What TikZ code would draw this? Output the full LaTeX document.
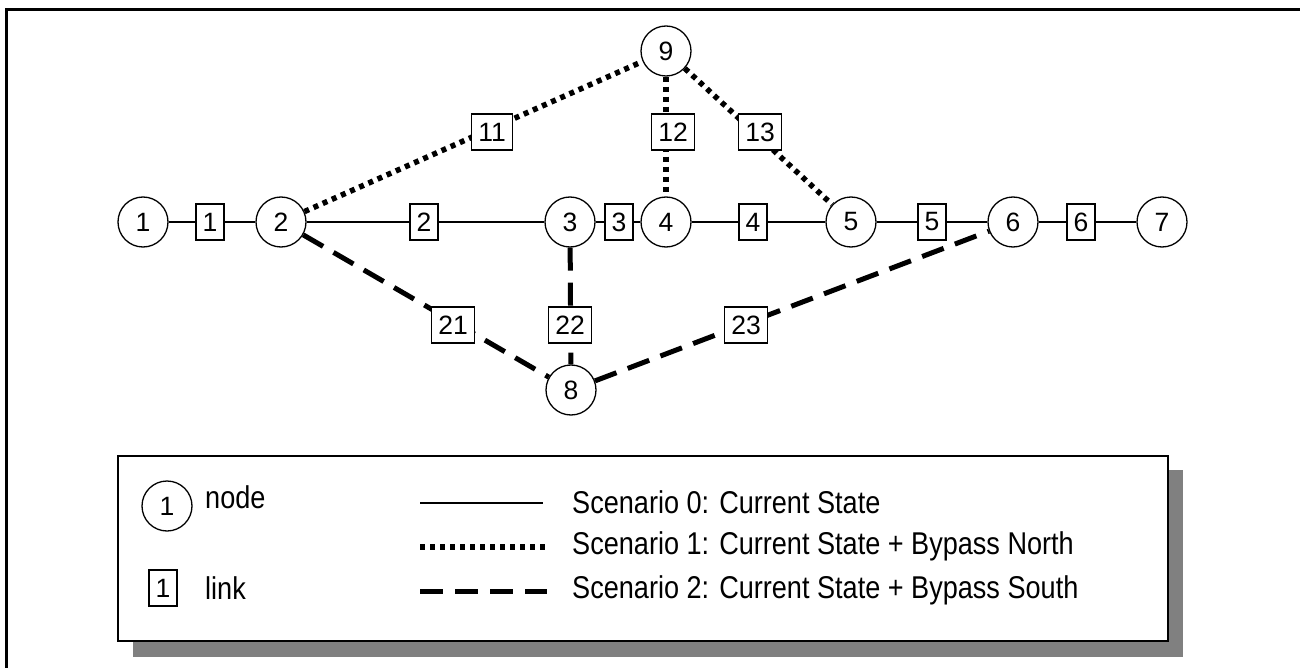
\documentclass[tikz,border=0pt]{standalone}
\usepackage{fontspec}
\setmainfont{Liberation Sans}[FakeStretch=0.86]
\newfontfamily\digitfont{Liberation Sans}
\definecolor{shadowgray}{RGB}{128,128,128}
\begin{document}
\begin{tikzpicture}[x=1pt,y=-1pt,
  nd/.style={circle,draw,line width=1.3pt,fill=white,minimum size=50pt,inner sep=0pt,font=\digitfont\fontsize{26.5}{30}\selectfont},
  lk/.style={rectangle,draw,line width=1.3pt,fill=white,minimum height=36pt,inner xsep=6.5pt,inner ysep=0pt,font=\digitfont\fontsize{26.5}{30}\selectfont},
  sz/.style={line width=1.5pt},
  sn/.style={line width=5.5pt,dash pattern=on 5pt off 5pt},
  ss/.style={line width=5pt,dash pattern=on 23pt off 12pt},
  lg/.style={anchor=west,font=\fontsize{31.5}{36}\selectfont,inner sep=0pt}
]
\useasboundingbox (0,0) rectangle (1300,668);
% outer frame (top and left only visible)
\draw[line width=3pt] (6,668) -- (6,10) -- (1300,10);

% circle nodes
\node[nd] (n1) at (143,222) {1};
\node[nd] (n2) at (281,222) {2};
\node[nd] (n3) at (570,222) {3};
\node[nd] (n4) at (666,222) {4};
\node[nd] (n5) at (851,222) {5};
\node[nd] (n6) at (1013,222) {6};
\node[nd] (n7) at (1162,222) {7};
\node[nd] (n8) at (571,390) {8};
\node[nd] (n9) at (666,51) {9};

% connectors
\draw[sz] (n1) -- (n2) -- (n3) -- (n4) -- (n5) -- (n6) -- (n7);
\draw[sn] (n2) -- (n9);
\draw[sn] (n9) -- (n4);
\draw[sn] (n9) -- (n5);
\draw[ss] (n2) -- (n8);
\draw[ss] (n3) -- (n8);
\draw[ss] (n8) -- (n6);

% link labels
\node[lk] (l1) at (210,222) {1};
\node[lk] (l2) at (424,222) {2};
\node[lk] (l3) at (619,222) {3};
\node[lk] (l4) at (753,222) {4};
\node[lk] (l5) at (932,222) {5};
\node[lk] (l6) at (1081,222) {6};
\node[lk] (l11) at (492,132) {11};
\node[lk] (l12) at (673,132) {12};
\node[lk] (l13) at (760,132) {13};
\node[lk] (l21) at (453,325) {21};
\node[lk] (l22) at (570,325) {22};
\node[lk] (l23) at (746,325) {23};

% legend
\fill[shadowgray] (133,470) rectangle (1183,657);
\draw[line width=1.5pt,fill=white] (118,456) rectangle (1168,641);
\node[nd] (lgn) at (167,506) {1};
\node[lg] (lgnt) at (205,497) {node};
\node[lk] (lgl) at (163,588) {1};
\node[lg] (lglt) at (205,588) {link};
\coordinate (a0) at (420,503); \coordinate (b0) at (543,503);
\coordinate (a1) at (420,547); \coordinate (b1) at (547,547);
\coordinate (a2) at (420,591); \coordinate (b2) at (547,591);
\draw[sz] (a0) -- (b0);
\draw[sn] (a1) -- (b1);
\draw[ss] (a2) -- (b2);
\node[lg] (t0) at (572,502) {Scenario 0: Current State};
\node[lg] (t1) at (572,546) {Scenario 1: Current State + Bypass North};
\node[lg] (t2) at (572,590) {Scenario 2: Current State + Bypass South};
\end{tikzpicture}
\end{document}
